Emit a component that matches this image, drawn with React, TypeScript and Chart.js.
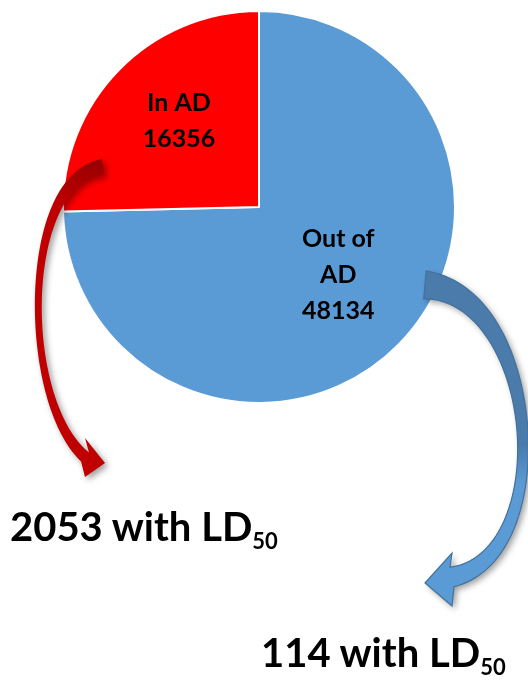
import React, { useEffect, useRef } from "react";
import { Chart, registerables } from "chart.js";

Chart.register(...registerables);

// ---- data ----
const categories: string[] = ["Out of AD", "In AD"];
const values: number[] = [48134, 16356];
const labelLines: string[][] = [["Out of", "AD", "48134"], ["In AD", "16356"]];
const sliceColors: string[] = ["#5b9bd5", "#ff0000"];
const subsetCounts: number[] = [114, 2053];

// label placement: fraction of radius along mid-angle
const labelRadius: number[] = [0.53, 0.6];
const labelShift: number[][] = [[5, -5], [4, -4]];

type Pt = [number, number];
interface ArrowDef {
  p: [Pt, Pt, Pt, Pt];
  w: [number, number, number];
  head: [Pt, Pt, Pt];
  grad: [number, number, string, string];
  stroke: string | null;
}

const arrows: ArrowDef[] = [
  {
    p: [[103, 167], [20, 178], [20, 400], [85, 457]],
    w: [16, 0, 12],
    head: [[85, 438], [105, 463], [85, 477]],
    grad: [165, 205, "#9a0000", "#c00000"],
    stroke: null,
  },
  {
    p: [[425, 285], [540, 295], [560, 555], [452, 577]],
    w: [28, -2, 20],
    head: [[452, 553], [425, 583], [452, 606]],
    grad: [445, 485, "#4a7bab", "#5b9bd5"],
    stroke: "#41719c",
  },
];

function bez(p: Pt[], t: number): Pt {
  const u = 1 - t;
  return [
    u * u * u * p[0][0] + 3 * u * u * t * p[1][0] + 3 * u * t * t * p[2][0] + t * t * t * p[3][0],
    u * u * u * p[0][1] + 3 * u * u * t * p[1][1] + 3 * u * t * t * p[2][1] + t * t * t * p[3][1],
  ];
}
function bezD(p: Pt[], t: number): Pt {
  const u = 1 - t;
  return [
    3 * u * u * (p[1][0] - p[0][0]) + 6 * u * t * (p[2][0] - p[1][0]) + 3 * t * t * (p[3][0] - p[2][0]),
    3 * u * u * (p[1][1] - p[0][1]) + 6 * u * t * (p[2][1] - p[1][1]) + 3 * t * t * (p[3][1] - p[2][1]),
  ];
}

function drawArrow(ctx: CanvasRenderingContext2D, a: ArrowDef) {
  const N = 80;
  const left: Pt[] = [];
  const right: Pt[] = [];
  for (let i = 0; i <= N; i++) {
    const t = i / N;
    const [x, y] = bez(a.p, t);
    const [dx, dy] = bezD(a.p, t);
    const len = Math.hypot(dx, dy) || 1;
    const nx = -dy / len;
    const ny = dx / len;
    const u = 1 - t;
    const w = a.w[0] * u * u + 2 * a.w[1] * u * t + a.w[2] * t * t;
    left.push([x + (nx * w) / 2, y + (ny * w) / 2]);
    right.push([x - (nx * w) / 2, y - (ny * w) / 2]);
  }
  const [b1, tip, b2] = a.head;
  const le = left[N];
  const d1 = Math.hypot(le[0] - b1[0], le[1] - b1[1]);
  const d2 = Math.hypot(le[0] - b2[0], le[1] - b2[1]);
  const first = d1 < d2 ? b1 : b2;
  const second = d1 < d2 ? b2 : b1;

  ctx.save();
  ctx.beginPath();
  ctx.moveTo(left[0][0], left[0][1]);
  for (let i = 1; i <= N; i++) ctx.lineTo(left[i][0], left[i][1]);
  ctx.lineTo(first[0], first[1]);
  ctx.lineTo(tip[0], tip[1]);
  ctx.lineTo(second[0], second[1]);
  for (let i = N; i >= 0; i--) ctx.lineTo(right[i][0], right[i][1]);
  ctx.closePath();
  const g = ctx.createLinearGradient(0, a.grad[0], 0, a.grad[1]);
  g.addColorStop(0, a.grad[2]);
  g.addColorStop(1, a.grad[3]);
  ctx.fillStyle = g;
  ctx.shadowColor = "rgba(0,0,0,0.38)";
  ctx.shadowBlur = 6;
  ctx.shadowOffsetX = 3;
  ctx.shadowOffsetY = 3;
  ctx.fill();
  ctx.shadowColor = "transparent";
  if (a.stroke) {
    ctx.strokeStyle = a.stroke;
    ctx.lineWidth = 1.2;
    ctx.lineJoin = "miter";
    ctx.stroke();
  }
  ctx.restore();
}

const decorPlugin = {
  id: "decor",
  afterDatasetsDraw(chart: any) {
    const ctx: CanvasRenderingContext2D = chart.ctx;
    arrows.forEach((a) => drawArrow(ctx, a));
    const meta = chart.getDatasetMeta(0);
    ctx.save();
    ctx.fillStyle = "#000";
    ctx.font = "bold 25px Lato";
    ctx.textAlign = "center";
    ctx.textBaseline = "middle";
    meta.data.forEach((arc: any, i: number) => {
      const { x, y, startAngle, endAngle, outerRadius } = arc.getProps(
        ["x", "y", "startAngle", "endAngle", "outerRadius"],
        true
      );
      const mid = (startAngle + endAngle) / 2;
      const cx = x + Math.cos(mid) * outerRadius * labelRadius[i] + labelShift[i][0];
      const cy = y + Math.sin(mid) * outerRadius * labelRadius[i] + labelShift[i][1];
      const lines = labelLines[i];
      const lh = 36;
      lines.forEach((ln, j) => {
        ctx.fillText(ln, cx, cy + (j - (lines.length - 1) / 2) * lh);
      });
    });
    ctx.restore();
  },
};

export default function App() {
  const ref = useRef<HTMLCanvasElement | null>(null);
  useEffect(() => {
    if (!ref.current) return;
    const chart = new Chart(ref.current, {
      type: "pie",
      data: {
        labels: categories,
        datasets: [
          {
            data: values,
            backgroundColor: sliceColors,
            borderColor: "#ffffff",
            borderWidth: 2,
          },
        ],
      },
      options: {
        responsive: false,
        animation: false,
        layout: { padding: { left: 62, top: 10, right: 72, bottom: 278 } },
        plugins: { legend: { display: false }, tooltip: { enabled: false } },
      },
      plugins: [decorPlugin],
    });
    return () => chart.destroy();
  }, []);

  const bigText: React.CSSProperties = {
    position: "absolute",
    fontFamily: "Lato",
    fontWeight: 700,
    fontSize: 40,
    lineHeight: "40px",
    whiteSpace: "nowrap",
    color: "#000",
  };
  const sub: React.CSSProperties = {
    fontSize: 22,
    position: "relative",
    top: 8,
    verticalAlign: "baseline",
  };

  return (
    <div style={{ position: "fixed", left: 0, top: 0, width: 528, height: 682, background: "#fff", overflow: "hidden" }}>
      <canvas ref={ref} width={528} height={682} style={{ position: "absolute", left: 0, top: 0 }} />
      <div style={{ ...bigText, left: 10, top: 506 }}>
        {subsetCounts[1]} with LD<span style={sub}>50</span>
      </div>
      <div style={{ ...bigText, left: 261, top: 632 }}>
        {subsetCounts[0]} with LD<span style={sub}>50</span>
      </div>
    </div>
  );
}
